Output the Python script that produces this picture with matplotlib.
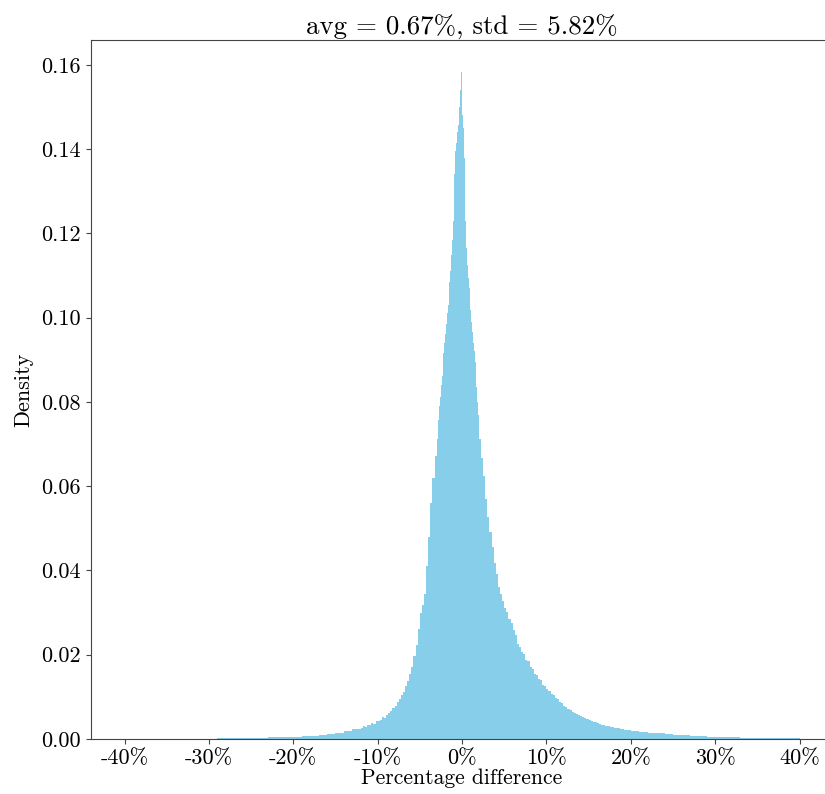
import numpy as np
import matplotlib
matplotlib.use("Agg")
import matplotlib.pyplot as plt
from matplotlib.ticker import FuncFormatter

plt.rcParams['font.family'] = ['cmr10', 'DejaVu Serif']
plt.rcParams['axes.unicode_minus'] = False

# histogram of percentage differences (density)
# bin layout: (start, stop, width) per segment
segments = [(-44, -12, 1.0), (-12, -3, 0.25), (-3, 2, 0.1), (2, 20, 0.25), (20, 44, 1.0)]

dens_left_tail = [0.00002, 0.00002, 0.00003, 0.00002, 0.00003, 0.00004, 0.00003, 0.00005,
                  0.00004, 0.00006, 0.00005, 0.00007, 0.00008, 0.00009, 0.00011, 0.00013,
                  0.00015, 0.00018, 0.00024, 0.00027, 0.00032, 0.00036, 0.00042, 0.00048,
                  0.00058, 0.00068, 0.00082, 0.00098, 0.00120, 0.00150, 0.00185, 0.00230]
dens_left = [0.0027, 0.0031, 0.0029, 0.0034, 0.0033, 0.0038, 0.0036, 0.0042, 0.0043,
             0.0046, 0.0051, 0.0050, 0.0057, 0.0061, 0.0066, 0.0073, 0.0079, 0.0088,
             0.0094, 0.0104, 0.0112, 0.0126, 0.0138, 0.0155, 0.0172, 0.0198, 0.0222,
             0.0262, 0.0298, 0.0318, 0.0345, 0.0410, 0.0480, 0.0560, 0.0620, 0.0672]
dens_core = [0.0712, 0.0735, 0.0758, 0.0790, 0.0812, 0.0840, 0.0862, 0.0885, 0.0915,
             0.0940, 0.0962, 0.0985, 0.1010, 0.1030, 0.1058, 0.1085, 0.1110, 0.1148,
             0.1185, 0.1230, 0.1290, 0.1340, 0.1395, 0.1415, 0.1440, 0.1458, 0.1475,
             0.1500, 0.1540, 0.1582, 0.1480, 0.1450, 0.1380, 0.1310, 0.1230, 0.1165,
             0.1125, 0.1095, 0.1070, 0.1045, 0.1018, 0.0990, 0.0965, 0.0940, 0.0920,
             0.0895, 0.0868, 0.0835, 0.0800, 0.0770]
dens_right = [0.0712, 0.0668, 0.0625, 0.0570, 0.0528, 0.0492, 0.0455, 0.0418, 0.0392,
              0.0360, 0.0345, 0.0328, 0.0312, 0.0302, 0.0284, 0.0275, 0.0258, 0.0246,
              0.0226, 0.0218, 0.0206, 0.0201, 0.0188, 0.0184, 0.0170, 0.0166, 0.0155,
              0.0152, 0.0143, 0.0139, 0.0128, 0.0126, 0.0118, 0.0114, 0.0106, 0.0104,
              0.0097, 0.0094, 0.0087, 0.0085, 0.0079, 0.0077, 0.0071, 0.0069, 0.0065,
              0.0062, 0.0059, 0.0057, 0.0054, 0.0052, 0.0049, 0.0047, 0.0045, 0.0043,
              0.0041, 0.0040, 0.0037, 0.0036, 0.0034, 0.0033, 0.0031, 0.0030, 0.0029,
              0.0028, 0.0027, 0.0026, 0.0025, 0.0024, 0.0023, 0.0022, 0.0021, 0.0021]
dens_right_tail = [0.0019, 0.0017, 0.0015, 0.0013, 0.0011, 0.00098, 0.00085, 0.00074,
                   0.00064, 0.00056, 0.00048, 0.00042, 0.00036, 0.00030, 0.00026, 0.00022,
                   0.00019, 0.00016, 0.00014, 0.00012, 0.00010, 0.00009, 0.00008, 0.00007]

avg, std = 0.67, 5.82
x_ticks = [-40, -30, -20, -10, 0, 10, 20, 30, 40]
y_ticks = [0.00, 0.02, 0.04, 0.06, 0.08, 0.10, 0.12, 0.14, 0.16]

heights = np.array(dens_left_tail + dens_left + dens_core + dens_right + dens_right_tail)
edges = [segments[0][0]]
for a, b, w in segments:
    n = int(round((b - a) / w))
    edges += list(np.linspace(a, b, n + 1)[1:])
edges = np.array(edges)

fig = plt.figure(figsize=(8.25, 7.94), dpi=100)
# the right spine sits just past the right edge of the picture, as in the reference
ax = fig.add_axes([0.110, 0.0693, 0.9000, 0.8803])
ax.stairs(heights, edges, fill=True, color='skyblue', linewidth=0)

ax.set_xlim(-44, 44)
ax.set_ylim(0, 0.1659)
ax.set_xticks(x_ticks)
ax.set_yticks(y_ticks)
ax.xaxis.set_major_formatter(FuncFormatter(lambda v, p: f"{int(round(v))}%"))
ax.yaxis.set_major_formatter(FuncFormatter(lambda v, p: f"{v:.2f}"))
ax.tick_params(labelsize=16, color='#444444')
for s in ax.spines.values():
    s.set_color('#444444')

ax.set_xlabel("Percentage difference", fontsize=15.5, labelpad=0)
ax.set_ylabel("Density", fontsize=16, labelpad=6)
ax.set_title(f"avg = {avg}%, std = {std}%", fontsize=19.4, pad=4)

fig.savefig("out.png", dpi=100)
